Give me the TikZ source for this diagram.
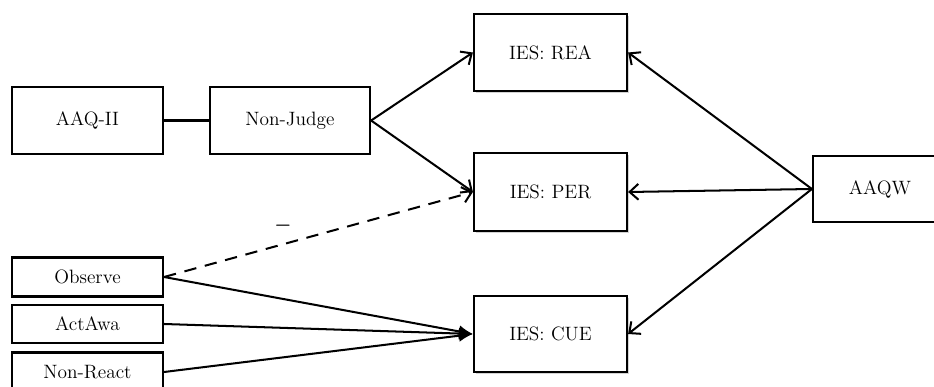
\documentclass[tikz,border=0pt]{standalone}
\usetikzlibrary{arrows.meta,shadows}

\begin{document}
\begin{tikzpicture}[>={Straight Barb[length=5pt,width=9pt]}, line width=1.15pt,
  box/.style={draw, line width=1.25pt, minimum width=3.02cm, minimum height=1.34cm,
    font=\fontsize{11}{13}\selectfont},
  ies/.style={box, minimum width=3.06cm, minimum height=1.54cm, fill=white,
    drop shadow={shadow xshift=.04cm, shadow yshift=-.04cm, opacity=.35}},
  facet/.style={box, minimum height=.78cm}]
  \clip (0,0) rectangle (18.68,7.74);
  % left side
  \node[box] (aaq) at (1.75,5.33) {AAQ-II};
  \node[box, minimum width=3.2cm] (nonjudge) at (5.8,5.33) {Non-Judge};
  \node[facet] (observe) at (1.75,2.2) {Observe};
  \node[facet, minimum height=.76cm] (actawa) at (1.75,1.26) {ActAwa};
  \node[facet] (nonreact) at (1.75,0.3) {Non-React};
  % outcomes
  \node[ies] (rea) at (11.01,6.69) {IES: REA};
  \node[ies, minimum height=1.56cm] (per) at (11.01,3.9) {IES: PER};
  \node[ies, minimum height=1.52cm] (cue) at (11.01,1.06) {IES: CUE};
  \node[box, minimum width=2.68cm, minimum height=1.32cm] (aaqw) at (17.6,3.96) {AAQW};
  % paths
  \draw (aaq) -- (nonjudge);
  \draw[->] (nonjudge.east) -- (rea.west);
  \draw[->] (nonjudge.east) -- (per.west);
  \draw[->, dashed, dash pattern=on 7pt off 5pt] (observe.east) -- (per.west);
  \node[font=\fontsize{11}{13}\selectfont\boldmath] (minus) at (5.66,3.22) {$-$};
  \foreach \f in {observe, actawa, nonreact}
    \draw[-{Latex[length=8pt,width=7pt]}] (\f.east) -- (cue.west);
  \foreach \o in {rea, per, cue}
    \draw[->] (aaqw.west) -- (\o.east);
\end{tikzpicture}
\end{document}
